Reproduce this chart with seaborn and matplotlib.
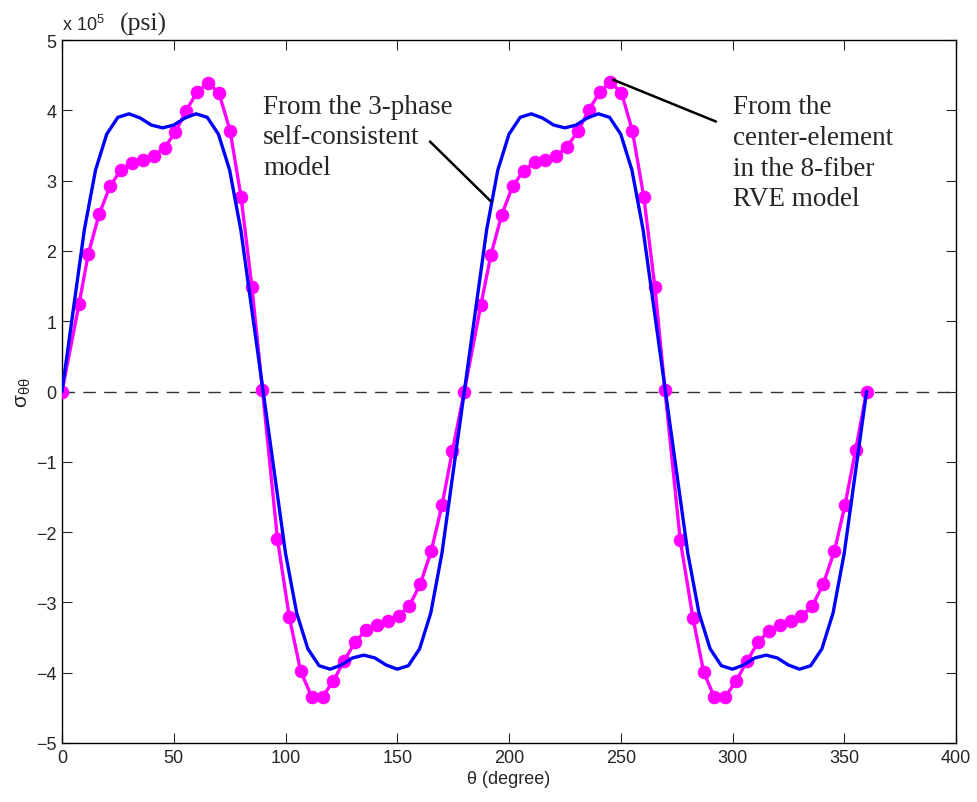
import matplotlib
matplotlib.use("Agg")
import matplotlib.pyplot as plt
import seaborn as sns
import numpy as np
import pandas as pd

# ---- data (stress in units of 1e5 psi) ----
rve_theta = [0, 7.6, 11.8, 16.6, 21.5, 26.3, 31.2, 36.1, 41.0, 46.0, 50.7, 55.5, 60.4, 65.3, 70.2, 75.2, 80.1, 85.0, 89.7,
             96.4, 101.7, 106.8, 111.7, 116.6, 121.4, 126.2, 131.1, 136.0, 140.9, 145.9, 150.6, 155.4, 160.3, 165.2, 170.0, 174.7, 180.0,
             187.4, 191.9, 196.7, 201.6, 206.6, 211.5, 216.3, 221.1, 225.9, 230.8, 235.7, 240.6, 245.4, 250.3, 255.2, 260.3, 265.3, 269.8,
             276.6, 282.3, 287.1, 291.9, 296.6, 301.6, 306.4, 311.4, 316.4, 321.3, 326.1, 330.8, 335.7, 340.6, 345.6, 350.3, 355.1, 360.0]
rve_sigma = [0, 1.24, 1.96, 2.52, 2.92, 3.15, 3.25, 3.30, 3.35, 3.47, 3.69, 3.99, 4.26, 4.39, 4.25, 3.71, 2.77, 1.48, 0.02,
             -2.10, -3.21, -3.98, -4.34, -4.34, -4.12, -3.83, -3.57, -3.39, -3.32, -3.27, -3.20, -3.05, -2.74, -2.27, -1.62, -0.84, 0.0,
             1.23, 1.94, 2.51, 2.92, 3.14, 3.26, 3.30, 3.35, 3.48, 3.70, 4.00, 4.26, 4.40, 4.25, 3.71, 2.77, 1.48, 0.02,
             -2.11, -3.22, -3.99, -4.35, -4.35, -4.12, -3.84, -3.57, -3.40, -3.32, -3.27, -3.20, -3.05, -2.74, -2.27, -1.62, -0.83, 0.0]

sc_theta = [0, 5, 10, 15, 20, 25, 30, 35, 40, 45, 50, 55, 60, 65, 70, 75, 80, 85, 90,
            95, 100, 105, 110, 115, 120, 125, 130, 135, 140, 145, 150, 155, 160, 165, 170, 175, 180,
            185, 190, 195, 200, 205, 210, 215, 220, 225, 230, 235, 240, 245, 250, 255, 260, 265, 270,
            275, 280, 285, 290, 295, 300, 305, 310, 315, 320, 325, 330, 335, 340, 345, 350, 355, 360]
sc_sigma = [0, 1.15, 2.30, 3.15, 3.66, 3.90, 3.95, 3.89, 3.79, 3.75, 3.79, 3.89, 3.95, 3.90, 3.66, 3.15, 2.30, 1.15, 0,
            -1.15, -2.30, -3.15, -3.66, -3.90, -3.95, -3.89, -3.79, -3.75, -3.79, -3.89, -3.95, -3.90, -3.66, -3.15, -2.30, -1.15, 0,
            1.15, 2.30, 3.15, 3.66, 3.90, 3.95, 3.89, 3.79, 3.75, 3.79, 3.89, 3.95, 3.90, 3.66, 3.15, 2.30, 1.15, 0,
            -1.15, -2.30, -3.15, -3.66, -3.90, -3.95, -3.89, -3.79, -3.75, -3.79, -3.89, -3.95, -3.90, -3.66, -3.15, -2.30, -1.15, 0]

x_ticks = [0, 50, 100, 150, 200, 250, 300, 350, 400]
y_ticks = [-5, -4, -3, -2, -1, 0, 1, 2, 3, 4, 5]

note_sc = ["From the 3-phase", "self-consistent", "model"]
note_rve = ["From the", "center-element", "in the 8-fiber", "RVE model"]

sns.set_style("white")
plt.rcParams['font.family'] = ['Liberation Sans', 'DejaVu Sans']
plt.rcParams['mathtext.fontset'] = 'custom'
plt.rcParams['mathtext.rm'] = 'Liberation Sans'
plt.rcParams['mathtext.it'] = 'Liberation Sans'

fig = plt.figure(figsize=(9.78, 8.03), dpi=100)
W, H = 978, 803
ax = fig.add_axes([62 / W, 1 - 744 / H, (956 - 62) / W, (744 - 41) / H])

df_sc = pd.DataFrame({"theta": sc_theta, "sigma": sc_sigma})
df_rve = pd.DataFrame({"theta": rve_theta, "sigma": rve_sigma})

ax.axhline(0, color='#333333', lw=1.0, ls=(0, (9, 6)), zorder=1)
sns.lineplot(data=df_rve, x="theta", y="sigma", ax=ax, color='#FF00FF', lw=2.4,
             marker='o', markersize=9, markeredgecolor='#FF00FF', sort=False, estimator=None, zorder=3)
sns.lineplot(data=df_sc, x="theta", y="sigma", ax=ax, color='#0000FF', lw=2.4,
             sort=False, estimator=None, zorder=4)

ax.set_xlim(0, 400)
ax.set_ylim(-5, 5)
ax.set_xticks(x_ticks)
ax.set_yticks(y_ticks)
ax.set_xticklabels([str(v) for v in x_ticks], fontsize=13)
ax.set_yticklabels([str(v).replace('-', '\u2212') for v in y_ticks], fontsize=13)
ax.tick_params(direction='in', length=7, width=0.8, top=True, right=True, bottom=True, left=True, pad=4)
for s in ax.spines.values():
    s.set_color('black')
    s.set_linewidth(1.0)

ax.set_xlabel("\u03b8 (degree)", fontsize=13, labelpad=3)
ax.set_ylabel(r"$\mathregular{\sigma_{\theta\theta}}$", fontsize=15, labelpad=2)

# header
fig.text(62 / W, 1 - 31 / H, r"x 10$^5$", fontsize=13, ha='left', va='baseline')
fig.text(120 / W, 1 - 31 / H, "(psi)", fontsize=18.5, family=['Liberation Serif', 'DejaVu Serif'],
         ha='left', va='baseline')

serif = ['Liberation Serif', 'DejaVu Serif']
# annotation leader lines (placed in data coordinates)
ax.plot([(430 - 62) / 2.235, (490.7 - 62) / 2.235], [(392.3 - 142) / 70.4, (392.3 - 201.7) / 70.4],
        color='black', lw=1.8, zorder=5)
ax.plot([(613 - 62) / 2.235, (716 - 62) / 2.235], [(392.3 - 80) / 70.4, (392.3 - 122) / 70.4],
        color='black', lw=1.8, zorder=5)

for i, line in enumerate(note_sc):
    ax.text((263 - 62) / 2.235, (392.3 - (113 + 30.5 * i)) / 70.4, line, fontsize=19.5, family=serif,
            ha='left', va='baseline')
for i, line in enumerate(note_rve):
    ax.text((733 - 62) / 2.235, (392.3 - (113 + 31 * i)) / 70.4, line, fontsize=19.5, family=serif,
            ha='left', va='baseline')

fig.savefig("out.png", dpi=100, facecolor='white')
